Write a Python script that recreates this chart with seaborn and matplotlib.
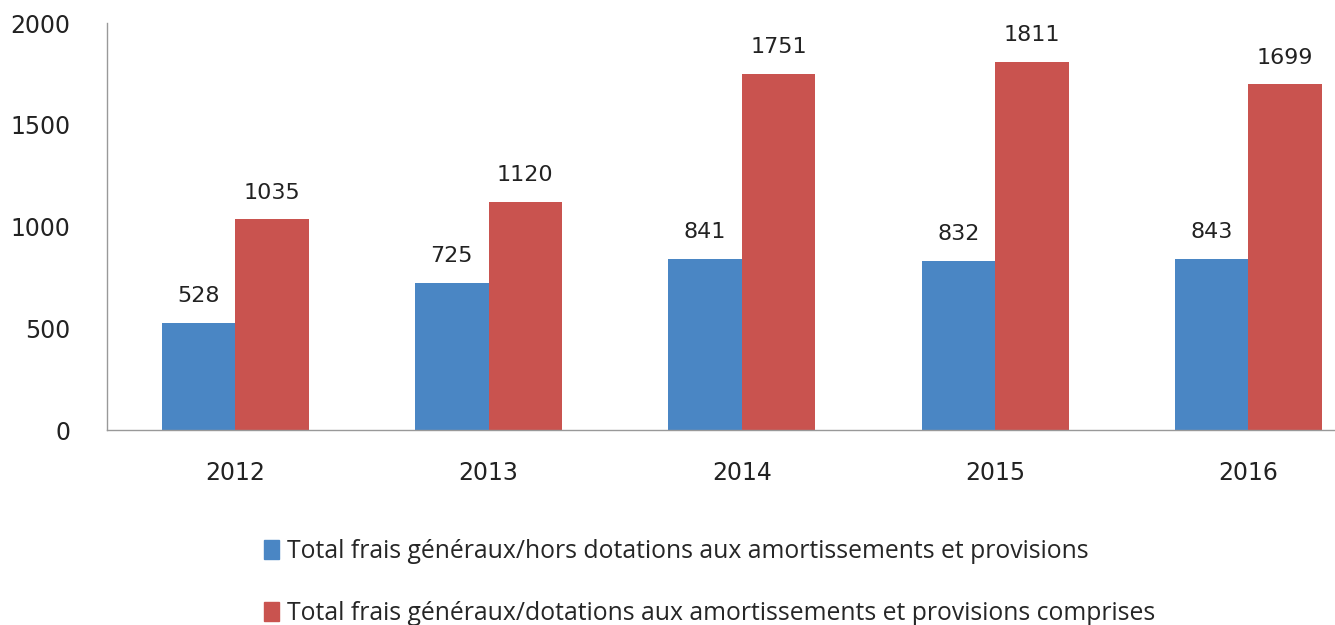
import numpy as np
import pandas as pd
import matplotlib.pyplot as plt
import seaborn as sns

years = ['2012', '2013', '2014', '2015', '2016']
hors = [528, 725, 841, 832, 843]
comprises = [1035, 1120, 1751, 1811, 1699]
series = ['Total frais généraux/hors dotations aux amortissements et provisions',
          'Total frais généraux/dotations aux amortissements et provisions comprises']
colors = ['#4a86c4', '#c9534f']

df = pd.DataFrame({
    'year': years * 2,
    'value': hors + comprises,
    'series': [series[0]] * len(years) + [series[1]] * len(years),
})

sns.set_style('white')
plt.rcParams['font.family'] = ['DejaVu Sans']

fig = plt.figure(figsize=(13.35, 6.25), dpi=100)
ax = fig.add_axes([0.080, 0.312, 0.95, 0.651])

sns.barplot(data=df, x='year', y='value', hue='series', palette=colors, saturation=1,
            width=0.58, gap=0, edgecolor='none', linewidth=0, ax=ax, legend=False)

for cont in ax.containers:
    ax.bar_label(cont, labels=[str(int(v)) for v in cont.datavalues], padding=12,
                 fontsize=16, color='#222222')

ax.set_ylim(0, 2000)
ax.set_yticks([0, 500, 1000, 1500, 2000])
ax.set_xlim(-0.507, 4.356)
ax.set_xlabel('')
ax.set_ylabel('')

ax.set_xticks(np.arange(0.5, 4.6, 1), minor=True)
ax.tick_params(axis='x', which='major', length=0, pad=22, labelsize=17, labelcolor='#222222')
ax.tick_params(axis='x', which='minor', length=7, width=1, color='#888888', direction='out')
ax.tick_params(axis='y', length=8, width=1, color='#888888', direction='out', pad=18,
               labelsize=17, labelcolor='#222222')

for s in ['top', 'right']:
    ax.spines[s].set_visible(False)
for s in ['left', 'bottom']:
    ax.spines[s].set_color('#999999')
    ax.spines[s].set_linewidth(1)

handles = [plt.Rectangle((0, 0), 1, 1, color=c) for c in colors]
fig.legend(handles, series, loc='upper left', bbox_to_anchor=(0.198, 0.138),
           frameon=False, handlelength=0.6, handleheight=0.8, handletextpad=0.3,
           labelspacing=1.5, borderaxespad=0, borderpad=0,
           prop={'family': 'Open Sans', 'size': 17.8})

fig.savefig('out.png', dpi=100)
